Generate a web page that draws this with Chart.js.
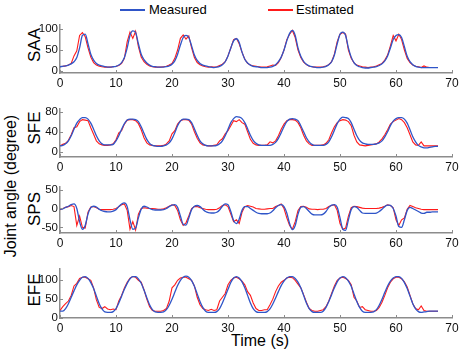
<!DOCTYPE html>
<html>
<head>
<meta charset="utf-8">
<script src="https://cdn.jsdelivr.net/npm/chart.js@4.4.0/dist/chart.umd.min.js"></script>
<style>
  body { margin: 0; background: #fff; width: 462px; height: 354px; overflow: hidden; position: relative;
         font-family: "Liberation Sans", Arial, sans-serif; }
  canvas { position: absolute; left: 0; }
  .lbl { position: absolute; white-space: nowrap; color: #000; line-height: 1; }
  .rot { transform: translate(-50%, -50%) rotate(-90deg); }
  .key { position: absolute; height: 1.5px; width: 25px; }
</style>
</head>
<body>
<div class="key" style="left:120px;top:9px;background:#2f55c8"></div>
<div class="lbl" style="left:149px;top:3px;font-size:13px">Measured</div>
<div class="key" style="left:268px;top:9px;background:#ff1a1a"></div>
<div class="lbl" style="left:296px;top:3px;font-size:13px">Estimated</div>

<div class="lbl rot" style="left:11px;top:186px;font-size:16px">Joint angle (degree)</div>
<div class="lbl rot" style="left:33.5px;top:45px;font-size:17px">SAA</div>
<div class="lbl rot" style="left:33.5px;top:128px;font-size:17px">SFE</div>
<div class="lbl rot" style="left:33.5px;top:209px;font-size:17px">SPS</div>
<div class="lbl rot" style="left:33.5px;top:290px;font-size:17px">EFE</div>
<div class="lbl" style="left:260px;top:333px;font-size:16px;transform:translateX(-50%)">Time (s)</div>

<canvas id="saa"></canvas>
<canvas id="sfe"></canvas>
<canvas id="sps"></canvas>
<canvas id="efe"></canvas>

<script>
// time base, 0.5 s steps
const time = [
  0,0.5,1,1.5,2,2.5,3,3.5,4,4.5,5,5.5,6,6.5,7,7.5,8,8.5,9,9.5,
  10,10.5,11,11.5,12,12.5,13,13.5,14,14.5,15,15.5,16,16.5,17,17.5,18,18.5,19,19.5,
  20,20.5,21,21.5,22,22.5,23,23.5,24,24.5,25,25.5,26,26.5,27,27.5,28,28.5,29,29.5,
  30,30.5,31,31.5,32,32.5,33,33.5,34,34.5,35,35.5,36,36.5,37,37.5,38,38.5,39,39.5,
  40,40.5,41,41.5,42,42.5,43,43.5,44,44.5,45,45.5,46,46.5,47,47.5,48,48.5,49,49.5,
  50,50.5,51,51.5,52,52.5,53,53.5,54,54.5,55,55.5,56,56.5,57,57.5,58,58.5,59,59.5,
  60,60.5,61,61.5,62,62.5,63,63.5,64,64.5,65,65.5,66,66.5,67,67.5
];

const saaMeasured = [
  10,11,12,14,17,22,32,55,85,88,65,40,26,18,14,12,10,9,9,10,
  11,14,20,32,55,85,96,92,65,40,27,19,14,11,10,9,9,9,10,12,
  16,24,40,62,80,85,80,60,38,25,18,14,12,10,9,8,9,11,15,22,
  36,55,72,77,68,45,28,19,14,11,10,9,8,8,8,9,11,15,22,33,
  50,72,90,97,85,55,35,23,16,12,10,9,8,8,9,11,15,22,38,65,
  88,93,85,55,33,20,13,10,8,7,7,8,9,10,13,17,24,36,55,75,
  85,87,80,58,35,22,15,11,9,8,8,8,8,8,8,8
];
const saaEstimated = [
  10,11,12,14,18,36,48,85,92,82,55,33,20,14,11,10,9,9,9,10,
  11,13,18,30,70,93,78,95,58,33,22,16,12,10,9,9,9,10,11,14,
  18,30,50,78,86,76,84,55,32,20,15,12,10,9,10,9,10,13,16,22,
  36,55,75,78,65,45,28,18,14,12,11,10,9,9,10,12,14,13,20,32,
  50,75,88,97,80,50,32,21,15,11,10,9,9,9,10,12,15,22,40,70,
  88,92,88,50,30,19,14,12,10,9,8,9,10,12,15,18,26,38,60,85,
  72,88,75,50,30,20,14,11,10,8,12,9,8,8,8,8
];

const sfeMeasured = [
  12,13,16,22,32,45,57,64,68,68,65,57,45,32,22,16,14,14,14,15,
  22,32,45,56,63,65,65,64,60,50,37,25,17,13,12,11,11,12,14,18,
  26,38,52,61,65,65,64,58,46,33,22,16,13,12,12,12,13,16,22,32,
  45,58,66,70,69,66,58,46,33,23,17,14,13,13,13,13,15,19,27,38,
  50,60,65,66,65,62,52,40,28,20,15,13,13,13,13,15,20,30,43,56,
  65,69,68,66,58,45,32,23,18,16,15,15,15,16,18,22,30,40,52,61,
  66,68,68,65,57,44,30,20,13,10,8,8,9,10,11,11
];
const sfeEstimated = [
  12,15,17,23,34,48,50,60,64,63,62,48,35,22,16,14,13,13,14,16,
  24,38,42,55,63,64,64,62,56,44,28,18,14,13,12,12,12,13,16,22,
  36,42,55,62,64,64,63,55,40,27,18,14,13,12,12,13,14,22,26,36,
  42,52,62,60,64,58,55,40,25,17,14,13,13,13,14,20,18,22,32,45,
  55,62,64,64,63,58,48,33,22,16,13,13,13,13,14,17,24,38,50,58,
  62,64,63,60,52,33,20,14,13,12,13,14,15,16,20,26,34,44,55,60,
  63,66,64,58,48,34,20,14,13,20,12,12,12,12,12,12
];

const spsMeasured = [
  -2,-1,3,6,10,12,0,-35,-55,-45,-15,2,6,4,-2,-6,-8,-9,-9,-7,
  -3,5,12,15,5,-30,-55,-52,-25,-2,6,4,0,-3,-4,-4,-4,-3,0,5,
  9,10,3,-20,-42,-44,-25,-3,6,8,5,-2,-8,-11,-12,-12,-10,-4,6,12,
  10,-8,-32,-40,-28,-5,5,5,0,-5,-10,-13,-14,-14,-14,-12,-6,2,8,10,
  5,-12,-40,-56,-45,-15,3,5,0,-8,-15,-17,-17,-17,-15,-8,3,9,10,3,
  -25,-55,-58,-30,-3,5,3,-5,-12,-13,-13,-13,-13,-12,-8,-2,5,9,8,0,
  -20,-48,-50,-30,-5,3,0,-4,-8,-12,-13,-10,-10,-9,-9,-9
];
const spsEstimated = [
  -3,0,3,5,8,5,-45,-20,-50,-52,-10,4,5,2,-2,-3,-3,-3,-3,-2,
  0,5,10,12,-5,-55,-35,-57,-15,0,2,1,0,0,-1,-2,-2,-1,2,6,
  10,8,-5,-30,-45,-38,-20,0,5,5,2,0,-2,-3,-3,-3,-2,2,8,10,
  5,-15,-35,-30,-40,-10,5,8,6,4,0,-1,-2,-2,-1,0,0,5,8,12,
  0,-25,-45,-55,-35,-5,5,6,3,-1,-2,-2,-3,-2,-2,0,5,8,10,-5,
  -40,-55,-52,-20,2,6,5,3,1,0,0,0,0,0,1,3,6,10,8,2,
  -30,-45,-30,-25,-2,8,5,2,0,-2,-3,-3,-3,-3,-3,-3
];

const efeMeasured = [
  18,18,25,38,55,72,88,100,108,110,105,94,78,58,38,24,16,15,15,17,
  25,40,58,76,92,104,110,110,104,92,74,54,35,22,16,15,15,16,22,34,
  50,68,86,100,108,111,108,99,84,64,44,28,18,15,15,15,17,25,40,58,
  76,94,106,110,106,96,80,60,40,25,17,15,15,15,17,24,37,53,70,86,
  98,106,110,110,105,95,80,60,40,25,17,15,15,15,18,28,44,62,80,96,
  106,110,107,98,84,64,44,28,18,15,15,15,16,22,34,50,68,85,98,106,
  110,110,105,94,78,58,38,24,17,15,16,17,18,18,18,18
];
const efeEstimated = [
  20,30,38,45,60,85,92,105,108,108,104,100,80,48,28,25,30,24,22,24,
  22,45,60,80,95,106,110,108,100,95,75,50,30,20,18,18,18,20,25,45,
  80,88,100,106,108,108,104,100,85,55,35,25,22,20,23,20,22,45,55,65,
  88,100,106,108,104,98,88,70,60,40,25,20,20,22,22,35,50,70,85,95,
  100,106,108,107,100,90,80,62,42,25,20,18,18,20,22,30,45,65,85,100,
  106,108,105,100,88,55,45,28,30,22,20,18,18,20,28,42,60,80,95,104,
  108,108,104,96,82,60,38,25,22,32,20,18,18,18,18,18
];

const xTicks = [0, 10, 20, 30, 40, 50, 60, 70];
const saaTicks = [0, 50, 100];
const sfeTicks = [0, 20, 40, 60, 80];
const spsTicks = [-50, 0, 50];
const efeTicks = [0, 50, 100];

const blue = '#2f55c8';
const red = '#ff1a1a';
const axisColor = '#8c8c8c';
const fontFamily = '"Liberation Sans", Arial, sans-serif';

// matlab style ticks pointing into the plot
const innerTicks = {
  id: 'innerTicks',
  afterDraw(chart) {
    const { ctx, chartArea: a, scales: { x, y } } = chart;
    ctx.save();
    ctx.strokeStyle = axisColor;
    ctx.lineWidth = 1;
    ctx.beginPath();
    x.ticks.forEach(t => {
      const px = Math.round(x.getPixelForValue(t.value)) + 0.5;
      ctx.moveTo(px, a.bottom);
      ctx.lineTo(px, a.bottom - 3);
    });
    y.ticks.forEach(t => {
      const py = Math.round(y.getPixelForValue(t.value)) + 0.5;
      ctx.moveTo(a.left, py);
      ctx.lineTo(a.left + 3, py);
    });
    ctx.stroke();
    ctx.restore();
  }
};

function makePanel(id, measured, estimated, ticks, yMin, yMax, plotTop, plotBottom) {
  const padTop = 10, xAxisH = 20;
  const canvas = document.getElementById(id);
  canvas.width = 462;
  canvas.height = plotBottom - plotTop + padTop + xAxisH;
  canvas.style.top = (plotTop - padTop) + 'px';

  return new Chart(canvas, {
    type: 'line',
    data: {
      datasets: [
        {
          label: 'Measured',
          data: time.map((t, i) => ({ x: t, y: measured[i] })),
          borderColor: blue,
          borderWidth: 1.3,
          pointRadius: 0,
          cubicInterpolationMode: 'monotone',
          fill: false
        },
        {
          label: 'Estimated',
          data: time.map((t, i) => ({ x: t, y: estimated[i] })),
          borderColor: red,
          borderWidth: 1.1,
          pointRadius: 0,
          tension: 0,
          fill: false
        }
      ]
    },
    options: {
      responsive: false,
      animation: false,
      events: [],
      layout: { padding: { top: padTop, right: 10, left: 0, bottom: 0 } },
      plugins: { legend: { display: false }, tooltip: { enabled: false } },
      scales: {
        x: {
          type: 'linear',
          min: 0,
          max: 70,
          afterBuildTicks: s => { s.ticks = xTicks.map(v => ({ value: v })); },
          afterFit: s => { s.height = xAxisH; },
          grid: { display: false, drawTicks: false, tickLength: 0 },
          border: { display: true, color: axisColor, width: 1.5 },
          ticks: { color: '#111', font: { family: fontFamily, size: 12 }, padding: 3, maxRotation: 0, autoSkip: false }
        },
        y: {
          type: 'linear',
          min: yMin,
          max: yMax,
          afterBuildTicks: s => { s.ticks = ticks.map(v => ({ value: v })); },
          afterFit: s => { s.width = 60; },
          grid: { display: false, drawTicks: false, tickLength: 0 },
          border: { display: true, color: axisColor, width: 1.5 },
          ticks: { color: '#111', font: { family: fontFamily, size: 11.5 }, padding: 2 }
        }
      }
    },
    plugins: [innerTicks]
  });
}

makePanel('saa', saaMeasured, saaEstimated, saaTicks, -5, 110, 25, 73);
makePanel('sfe', sfeMeasured, sfeEstimated, sfeTicks, -10, 85, 109, 157);
makePanel('sps', spsMeasured, spsEstimated, spsTicks, -65, 57, 187, 233);
makePanel('efe', efeMeasured, efeEstimated, efeTicks, 0, 130, 269, 318);
</script>
</body>
</html>
